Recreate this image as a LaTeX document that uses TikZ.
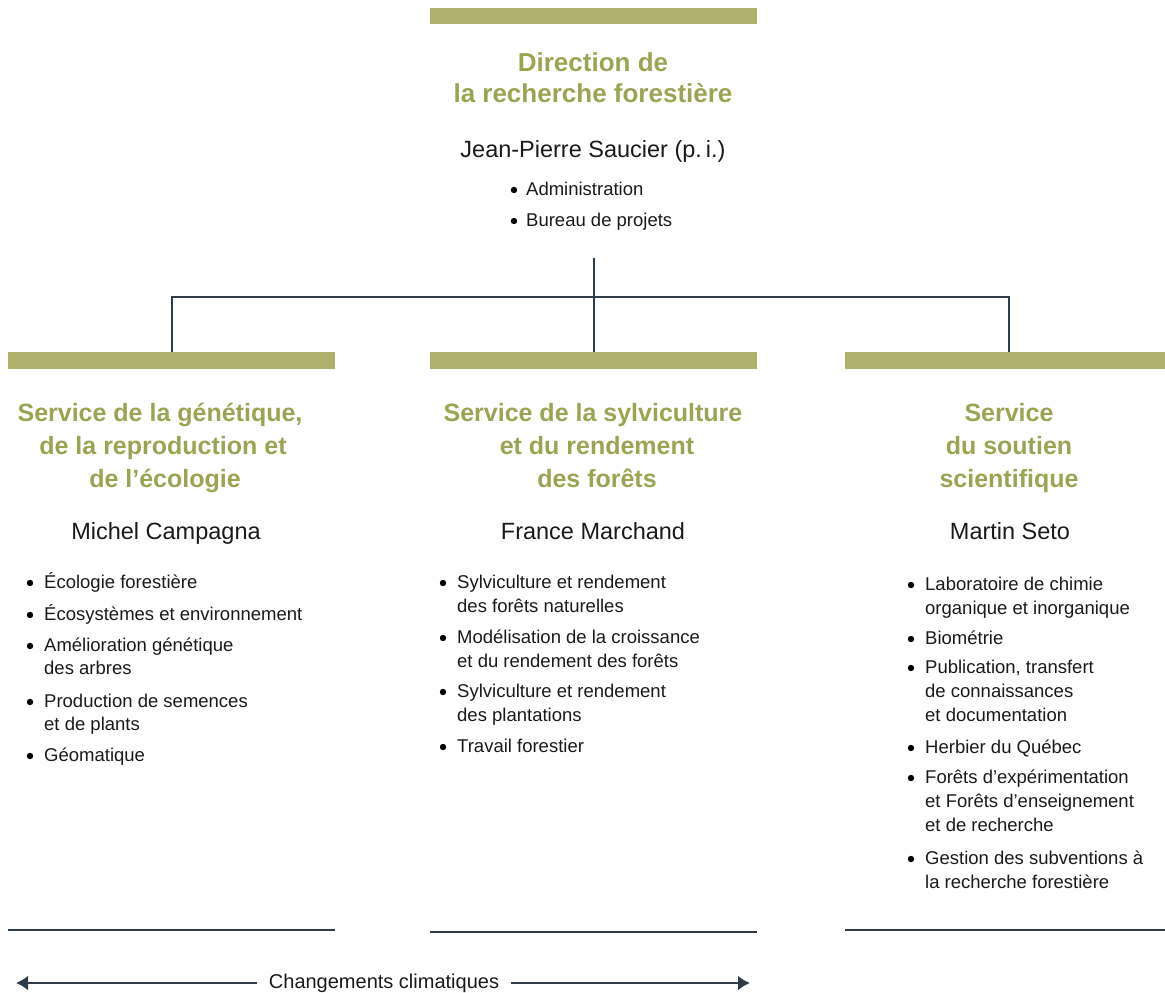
\documentclass[tikz,border=0pt]{standalone}
\usepackage{fontspec}
\setmainfont{Liberation Sans}
\usetikzlibrary{arrows.meta}
\definecolor{barc}{HTML}{AFB06B}
\definecolor{headc}{HTML}{9AA452}
\definecolor{linec}{HTML}{2E3B49}
\definecolor{txtc}{HTML}{1A1A1A}
\begin{document}
\begin{tikzpicture}[x=1pt,y=-1pt,
  bar/.style={fill=barc, minimum width=327pt, minimum height=16.5pt, inner sep=0pt, draw=none},
  head/.style={font=\bfseries\fontsize{25}{33}\selectfont, text=headc, anchor=base, inner sep=0pt},
  thead/.style={head, font=\bfseries\fontsize{26}{33}\selectfont},
  pname/.style={font=\fontsize{23.5}{28}\selectfont, text=txtc, anchor=base, inner sep=0pt},
  itm/.style={font=\fontsize{18.5}{24}\selectfont, text=txtc, anchor=base west, inner sep=0pt},
  bul/.style={circle, fill=black, draw=none, inner sep=0pt, minimum size=6.4pt},
  conn/.style={draw=linec, line width=2pt},
  rule/.style={draw=linec, line width=2.5pt},
  arr/.style={draw=linec, line width=2.5pt, -{Latex[length=12pt,width=15pt]}}]
\useasboundingbox (0,0) rectangle (1165,993);
\clip (0,0) rectangle (1165,993);

% top
\node[bar] (tbar) at (593.5,16) {};
\node[thead] (t1) at (593,71) {Direction de};
\node[thead] (t2) at (593,102) {la recherche forestière};
\node[pname] (tn) at (593,157) {Jean-Pierre Saucier (p.\,i.)};
\node[bul] (tb1) at (514,190) {};
\node[itm] (ti1) at (526,195) {Administration};
\node[bul] (tb2) at (514,221) {};
\node[itm] (ti2) at (526,226) {Bureau de projets};

% bars
\node[bar] (lbar) at (171.5,360.5) {};
\node[bar] (mbar) at (593.5,360.5) {};
\node[bar] (rbar) at (1008.5,360.5) {};

% connectors
\coordinate (stem) at (593.5,258);
\coordinate (jn) at (593.5,297);
\draw[conn] (stem) -- (mbar.north);
\draw[conn] (lbar.north) |- (jn) -| (rbar.north);

% left column
\node[head] (lh1) at (160,421) {Service de la génétique,};
\node[head] (lh2) at (163,454) {de la reproduction et};
\node[head] (lh3) at (165,487) {de l’écologie};
\node[pname] (ln) at (166,539) {Michel Campagna};
\node[bul] (lb1) at (30,583) {};
\node[itm] (li1) at (44,588) {Écologie forestière};
\node[bul] (lb2) at (30,615) {};
\node[itm] (li2) at (44,620) {Écosystèmes et environnement};
\node[bul] (lb3) at (30,646) {};
\node[itm] (li3) at (44,651) {Amélioration génétique};
\node[itm] (li3b) at (44,674) {des arbres};
\node[bul] (lb4) at (30,702) {};
\node[itm] (li4) at (44,707) {Production de semences};
\node[itm] (li4b) at (44,730) {et de plants};
\node[bul] (lb5) at (30,756) {};
\node[itm] (li5) at (44,761) {Géomatique};

% middle column
\node[head] (mh1) at (593,421) {Service de la sylviculture};
\node[head] (mh2) at (597,454) {et du rendement};
\node[head] (mh3) at (597,487) {des forêts};
\node[pname] (mn) at (593,539) {France Marchand};
\node[bul] (mb1) at (443,583) {};
\node[itm] (mi1) at (457,588) {Sylviculture et rendement};
\node[itm] (mi1b) at (457,612) {des forêts naturelles};
\node[bul] (mb2) at (443,638) {};
\node[itm] (mi2) at (457,643) {Modélisation de la croissance};
\node[itm] (mi2b) at (457,667) {et du rendement des forêts};
\node[bul] (mb3) at (443,692) {};
\node[itm] (mi3) at (457,697) {Sylviculture et rendement};
\node[itm] (mi3b) at (457,721) {des plantations};
\node[bul] (mb4) at (443,747) {};
\node[itm] (mi4) at (457,752) {Travail forestier};

% right column
\node[head] (rh1) at (1009,421) {Service};
\node[head] (rh2) at (1009,454) {du soutien};
\node[head] (rh3) at (1009,487) {scientifique};
\node[pname] (rn) at (1010,539) {Martin Seto};
\node[bul] (rb1) at (911,585) {};
\node[itm] (ri1) at (925,590) {Laboratoire de chimie};
\node[itm] (ri1b) at (925,614) {organique et inorganique};
\node[bul] (rb2) at (911,639) {};
\node[itm] (ri2) at (925,644) {Biométrie};
\node[bul] (rb3) at (911,668) {};
\node[itm] (ri3) at (925,673) {Publication, transfert};
\node[itm] (ri3b) at (925,697) {de connaissances};
\node[itm] (ri3c) at (925,721) {et documentation};
\node[bul] (rb4) at (911,748) {};
\node[itm] (ri4) at (925,753) {Herbier du Québec};
\node[bul] (rb5) at (911,778) {};
\node[itm] (ri5) at (925,783) {Forêts d’expérimentation};
\node[itm] (ri5b) at (925,807) {et Forêts d’enseignement};
\node[itm] (ri5c) at (925,831) {et de recherche};
\node[bul] (rb6) at (911,859) {};
\node[itm] (ri6) at (925,864) {Gestion des subventions à};
\node[itm] (ri6b) at (925,888) {la recherche forestière};

% bottom rules
\coordinate (lr1) at (8,930);  \coordinate (lr2) at (335,930);
\coordinate (mr1) at (430,932); \coordinate (mr2) at (757,932);
\coordinate (rr1) at (845,930); \coordinate (rr2) at (1172,930);
\draw[rule] (lr1) -- (lr2);
\draw[rule] (mr1) -- (mr2);
\draw[rule] (rr1) -- (rr2);

% climate arrow
\node[font=\fontsize{20}{24}\selectfont, text=txtc, inner xsep=12pt, inner ysep=0pt] (cc) at (384,983) {Changements climatiques};
\coordinate (al) at (16,983);
\coordinate (ar) at (750,983);
\draw[arr] (cc.west) -- (al);
\draw[arr] (cc.east) -- (ar);
\end{tikzpicture}
\end{document}
